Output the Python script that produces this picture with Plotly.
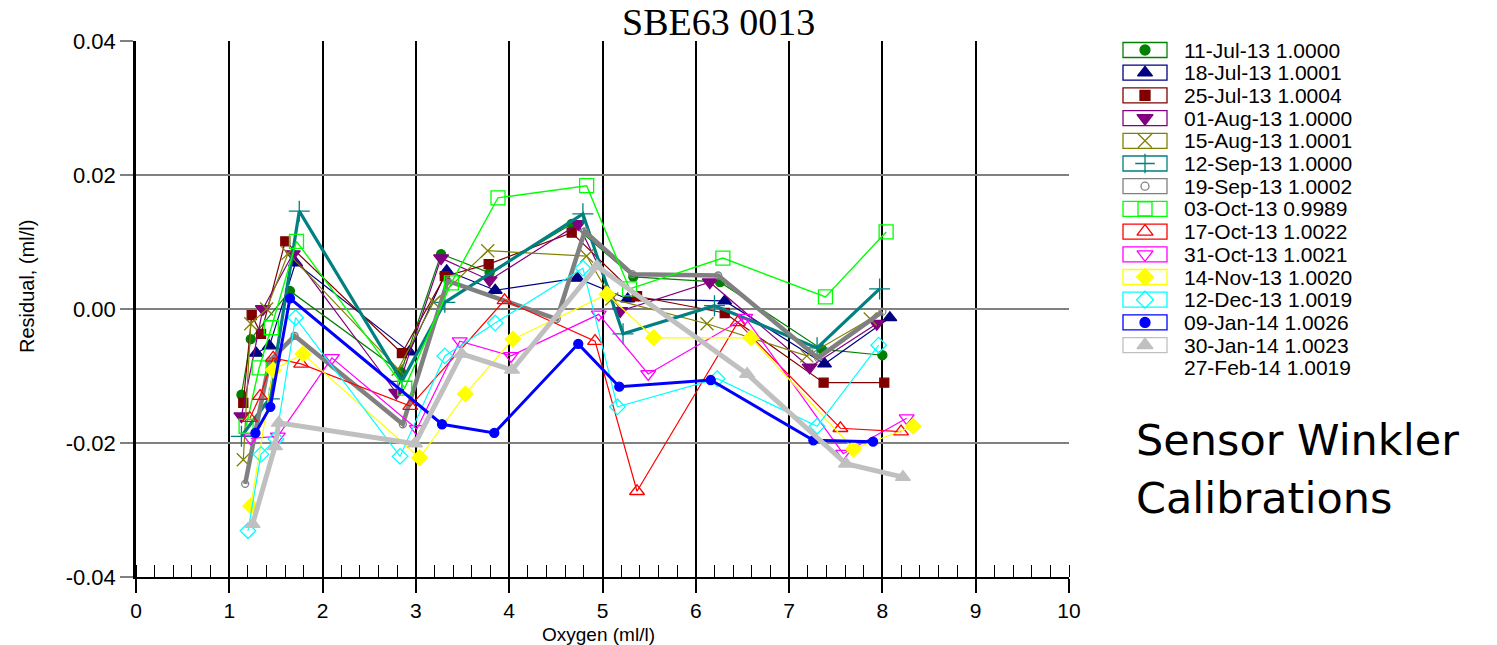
import plotly.graph_objects as go

W, H = 1497, 645


def fx(x):
    return x / W


def fy(y):
    return 1 - y / H


# ---------------- data ----------------
labels = ["11-Jul-13 1.0000", "18-Jul-13 1.0001", "25-Jul-13 1.0004", "01-Aug-13 1.0000",
          "15-Aug-13 1.0001", "12-Sep-13 1.0000", "19-Sep-13 1.0002", "03-Oct-13 0.9989",
          "17-Oct-13 1.0022", "31-Oct-13 1.0021", "14-Nov-13 1.0020", "12-Dec-13 1.0019",
          "09-Jan-14 1.0026", "30-Jan-14 1.0023", "27-Feb-14 1.0019"]

x_11jul = [1.13, 1.23, 1.65, 2.84, 3.27, 3.79, 4.67, 5.33, 6.26, 7.35, 8.00]
y_11jul = [-0.0128, -0.0045, 0.0027, -0.0094, 0.0082, 0.0054, 0.0127, 0.0048, 0.0040, -0.0060, -0.0069]

x_18jul = [1.29, 1.43, 1.71, 2.93, 3.33, 3.85, 4.73, 5.27, 6.31, 7.38, 8.08]
y_18jul = [-0.0066, -0.0055, 0.0069, -0.0064, 0.0057, 0.0028, 0.0046, 0.0015, 0.0012, -0.0082, -0.0013]

x_25jul = [1.15, 1.24, 1.34, 1.60, 2.85, 3.31, 3.78, 4.67, 5.37, 6.31, 7.37, 8.02]
y_25jul = [-0.0140, -0.0009, -0.0037, 0.0101, -0.0066, 0.0049, 0.0067, 0.0114, 0.0019, -0.0006, -0.0110, -0.0110]

x_01aug = [1.13, 1.36, 1.68, 2.79, 3.27, 3.79, 4.74, 5.19, 6.15, 7.22, 7.94]
y_01aug = [-0.0160, 0.0000, 0.0082, -0.0125, 0.0076, 0.0043, 0.0127, -0.0003, 0.0040, -0.0087, -0.0022]

x_15aug = [1.15, 1.23, 1.40, 1.63, 2.81, 3.19, 3.77, 4.83, 5.10, 6.12, 7.19, 7.87]
y_15aug = [-0.0225, -0.0022, 0.0000, 0.0083, -0.0090, 0.0010, 0.0087, 0.0079, 0.0015, -0.0022, -0.0070, -0.0015]

x_12sep = [1.13, 1.43, 1.75, 2.85, 3.31, 4.79, 5.22, 6.20, 7.30, 7.97]
y_12sep = [-0.0190, -0.0134, 0.0146, -0.0108, 0.0010, 0.0142, -0.0037, 0.0005, -0.0058, 0.0030]

x_19sep = [1.17, 1.43, 1.70, 2.86, 3.34, 4.51, 4.81, 5.32, 6.24, 7.31, 8.00]
y_19sep = [-0.0261, -0.0078, -0.0040, -0.0172, 0.0042, -0.0015, 0.0116, 0.0052, 0.0050, -0.0073, -0.0004]

x_03oct = [1.18, 1.32, 1.45, 1.72, 2.88, 3.38, 3.88, 4.83, 5.29, 6.29, 7.39, 8.04]
y_03oct = [-0.0175, -0.0088, -0.0028, 0.0101, -0.0118, 0.0039, 0.0166, 0.0184, 0.0030, 0.0076, 0.0018, 0.0115]

x_17oct = [1.22, 1.33, 1.47, 1.77, 2.94, 3.95, 4.92, 5.37, 6.45, 7.55, 8.20]
y_17oct = [-0.0163, -0.0130, -0.0073, -0.0082, -0.0145, 0.0013, -0.0048, -0.0272, -0.0020, -0.0178, -0.0183]

x_31oct = [1.23, 1.52, 2.10, 3.01, 3.47, 4.02, 4.96, 5.49, 6.53, 7.58, 8.26]
y_31oct = [-0.0193, -0.0190, -0.0073, -0.0179, -0.0048, -0.0070, -0.0008, -0.0097, -0.0013, -0.0216, -0.0163]

x_14nov = [1.23, 1.47, 1.79, 3.04, 3.53, 4.04, 5.05, 5.55, 6.59, 7.69, 8.33]
y_14nov = [-0.0294, -0.0091, -0.0067, -0.0222, -0.0127, -0.0045, 0.0022, -0.0043, -0.0043, -0.0209, -0.0175]

x_12dec = [1.20, 1.34, 1.50, 1.71, 2.83, 3.31, 3.85, 4.79, 5.16, 6.23, 7.30, 7.96]
y_12dec = [-0.0331, -0.0217, -0.0194, -0.0013, -0.0220, -0.0070, -0.0021, 0.0061, -0.0146, -0.0104, -0.0175, -0.0054]

x_09jan = [1.28, 1.44, 1.65, 3.28, 3.84, 4.74, 5.18, 6.16, 7.26, 7.90]
y_09jan = [-0.0185, -0.0146, 0.0016, -0.0172, -0.0185, -0.0052, -0.0116, -0.0106, -0.0196, -0.0198]

x_30jan = [1.25, 1.49, 1.53, 2.99, 3.49, 4.03, 4.94, 6.55, 7.61, 8.22]
y_30jan = [-0.0321, -0.0205, -0.0170, -0.0201, -0.0067, -0.0091, 0.0064, -0.0097, -0.0231, -0.0251]

x_27feb = []
y_27feb = []

xs = [x_11jul, x_18jul, x_25jul, x_01aug, x_15aug, x_12sep, x_19sep, x_03oct,
      x_17oct, x_31oct, x_14nov, x_12dec, x_09jan, x_30jan, x_27feb]
ys = [y_11jul, y_18jul, y_25jul, y_01aug, y_15aug, y_12sep, y_19sep, y_03oct,
      y_17oct, y_31oct, y_14nov, y_12dec, y_09jan, y_30jan, y_27feb]

x_ticks = list(range(0, 11))
y_ticks = [-0.04, -0.02, 0.00, 0.02, 0.04]

# ---------------- styles ----------------
colors = ["#008000", "#000080", "#800000", "#800080", "#808000", "#008080", "#808080",
          "#00FF00", "#FF0000", "#FF00FF", "#FFFF00", "#00FFFF", "#0000FF", "#C0C0C0", None]
symbols = ["circle", "triangle-up", "square", "triangle-down", "x-thin-open", "cross-thin-open",
           "circle-open", "square-open", "triangle-up-open", "triangle-down-open", "diamond",
           "diamond-open", "circle", "triangle-up", None]
msizes = [9, 12, 9, 13, 13, 15, 7, 14, 13, 13, 12, 12, 9, 13, 0]
lwidths = [1.2, 1.2, 1.2, 1.2, 1.2, 3.2, 4.5, 1.4, 1.2, 1.2, 1.2, 1.2, 3.0, 5.0, 0]

fig = go.Figure()

for i in range(len(labels)):
    if not xs[i]:
        continue
    fig.add_trace(go.Scatter(
        x=xs[i], y=ys[i], mode="lines+markers", name=labels[i], showlegend=False,
        line=dict(color=colors[i], width=lwidths[i]),
        marker=dict(symbol=symbols[i], size=msizes[i], color=colors[i],
                    line=dict(color=colors[i], width=1.3)),
        xaxis="x", yaxis="y"))

# ---------------- custom legend (boxed symbols) ----------------
leg_y0, leg_dy = 50, 22.7
shapes = []
annotations = []
for i, lab in enumerate(labels):
    yc = leg_y0 + i * leg_dy
    if colors[i] is not None:
        shapes.append(dict(type="rect", xref="x2", yref="y2", x0=1123, x1=1167,
                           y0=yc - 7.5, y1=yc + 7.5, line=dict(color=colors[i], width=1.3),
                           fillcolor="white", layer="below"))
        fig.add_trace(go.Scatter(
            x=[1145], y=[yc], mode="markers", showlegend=False, hoverinfo="skip",
            marker=dict(symbol=symbols[i], size=min(msizes[i] + 1, 14), color=colors[i],
                        line=dict(color=colors[i], width=1.3)),
            xaxis="x2", yaxis="y2"))
    annotations.append(dict(xref="x2", yref="y2", x=1182, y=yc, text=lab, showarrow=False,
                            xanchor="left", yanchor="middle",
                            font=dict(family="Liberation Sans, Arial", size=21, color="black")))

# title and axis titles
annotations.append(dict(xref="paper", yref="paper", x=fx(718), y=fy(22), text="SBE63 0013",
                        showarrow=False, xanchor="center", yanchor="middle",
                        font=dict(family="Liberation Serif, Times New Roman", size=38, color="black")))
annotations.append(dict(xref="paper", yref="paper", x=fx(598), y=fy(634), text="Oxygen (ml/l)",
                        showarrow=False, xanchor="center", yanchor="middle",
                        font=dict(family="Liberation Sans, Arial", size=19, color="black")))
annotations.append(dict(xref="paper", yref="paper", x=fx(27), y=fy(287), text="Residual, (ml/l)",
                        showarrow=False, xanchor="center", yanchor="middle", textangle=-90,
                        font=dict(family="Liberation Sans, Arial", size=20, color="black")))
annotations.append(dict(xref="paper", yref="paper", x=fx(1134), y=fy(440), text="Sensor Winkler",
                        showarrow=False, xanchor="left", yanchor="middle",
                        font=dict(family="DejaVu Sans", size=43, color="black")))
annotations.append(dict(xref="paper", yref="paper", x=fx(1134), y=fy(498), text="Calibrations",
                        showarrow=False, xanchor="left", yanchor="middle",
                        font=dict(family="DejaVu Sans", size=43, color="black")))

fig.update_layout(
    width=W, height=H,
    margin=dict(l=0, r=0, t=0, b=0, autoexpand=False),
    paper_bgcolor="white", plot_bgcolor="white",
    shapes=shapes, annotations=annotations,
    xaxis=dict(domain=[fx(136), fx(1069)], range=[0, 10], anchor="y",
               tickvals=x_ticks, ticktext=[str(v) for v in x_ticks],
               showgrid=True, gridcolor="black", gridwidth=1.5,
               showline=True, linecolor="black", linewidth=1.5,
               ticks="outside", ticklen=14, tickwidth=1.5, tickcolor="black",
               minor=dict(dtick=0.2, ticks="inside", ticklen=12, tickwidth=1,
                          tickcolor="black", showgrid=False),
               zeroline=False, fixedrange=True,
               tickfont=dict(family="Liberation Sans, Arial", size=21, color="black")),
    yaxis=dict(domain=[fy(577), fy(41)], range=[-0.04, 0.04], anchor="x",
               tickvals=y_ticks, ticktext=["%.2f" % v for v in y_ticks],
               showgrid=True, gridcolor="#808080", gridwidth=1.5,
               showline=True, linecolor="black", linewidth=2.5,
               ticks="outside", ticklen=13, tickwidth=1.5, tickcolor="#808080",
               zeroline=False, fixedrange=True,
               tickfont=dict(family="Liberation Sans, Arial", size=22, color="black")),
    xaxis2=dict(domain=[fx(1100), 1.0], range=[1100, W], anchor="y2",
                visible=False, fixedrange=True),
    yaxis2=dict(domain=[0, 1], range=[H, 0], anchor="x2", visible=False,
                fixedrange=True),
)

fig.write_html("out.html", config={"displayModeBar": False},
               post_script="document.body.style.margin='0';"
                           "document.body.style.overflow='hidden';")
